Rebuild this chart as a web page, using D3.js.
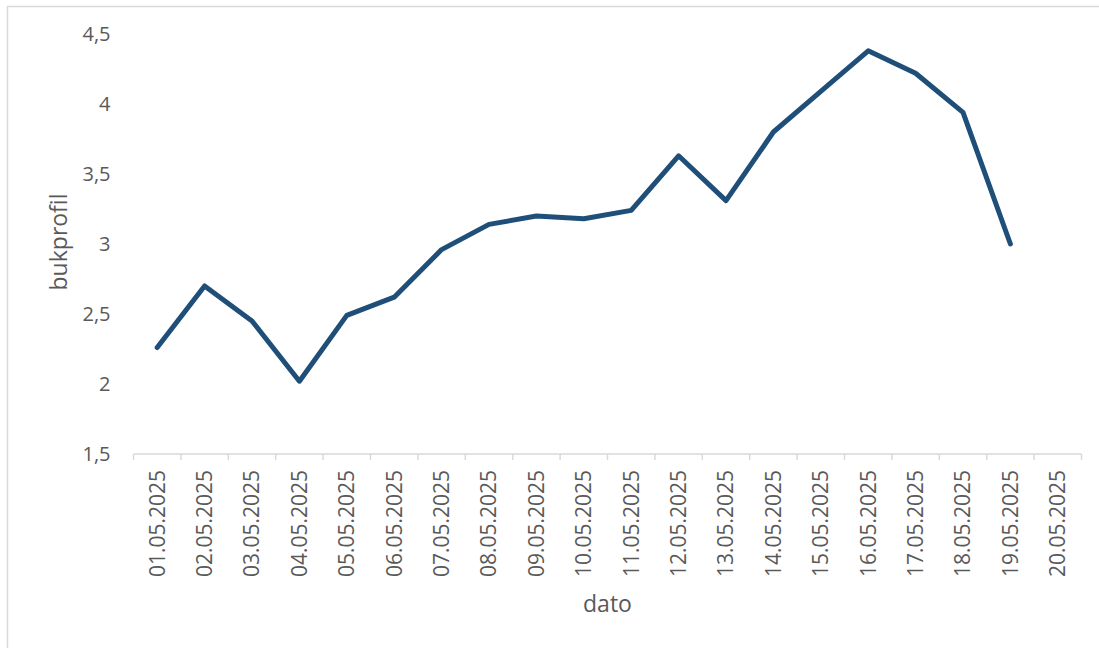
<!DOCTYPE html>
<html>
<head>
<meta charset="utf-8">
<script src="https://cdn.jsdelivr.net/npm/d3@7"></script>
<style>
  html, body { margin: 0; padding: 0; background: #fff; }
  svg { display: block; }
  text { font-family: "Open Sans", "Noto Sans", sans-serif; fill: #595959; }
</style>
</head>
<body>
<svg id="chart" width="1099" height="648"></svg>
<script>
// Daily readings, 1–20 May 2025 (last day has no value yet)
const dates = [
  "01.05.2025", "02.05.2025", "03.05.2025", "04.05.2025", "05.05.2025",
  "06.05.2025", "07.05.2025", "08.05.2025", "09.05.2025", "10.05.2025",
  "11.05.2025", "12.05.2025", "13.05.2025", "14.05.2025", "15.05.2025",
  "16.05.2025", "17.05.2025", "18.05.2025", "19.05.2025", "20.05.2025"
];
const bukprofil = [
  2.26, 2.70, 2.45, 2.02, 2.49, 2.62, 2.96, 3.14, 3.20, 3.18,
  3.24, 3.63, 3.31, 3.80, 4.09, 4.38, 4.22, 3.94, 3.00, null
];
const yTicks = [1.5, 2, 2.5, 3, 3.5, 4, 4.5];

const svg = d3.select("#chart");
const W = 1099, H = 648;
const margin = { left: 133.5, right: 17.5, top: 34, bottom: 194 };

// chart frame
svg.append("rect")
  .attr("x", 7.5).attr("y", 6.5)
  .attr("width", W + 20).attr("height", H + 20)
  .attr("fill", "none").attr("stroke", "#d9d9d9").attr("stroke-width", 1.5);

const x = d3.scaleBand()
  .domain(dates)
  .range([margin.left, W - margin.right]);

const y = d3.scaleLinear()
  .domain([1.5, 4.5])
  .range([H - margin.bottom, margin.top]);

const fmt = d => String(d).replace(".", ",");

// y axis: labels only
const yAxis = svg.append("g")
  .attr("transform", `translate(${margin.left},0)`)
  .call(d3.axisLeft(y).tickValues(yTicks).tickFormat(fmt).tickSize(0).tickPadding(23));
yAxis.select(".domain").remove();
yAxis.selectAll("text").style("font-size", "20px").attr("fill", "#595959");

// x axis with tick marks between categories
const xAxisG = svg.append("g")
  .attr("transform", `translate(0,${y(1.5)})`);

xAxisG.append("line")
  .attr("x1", x.range()[0]).attr("x2", x.range()[1])
  .attr("y1", 0).attr("y2", 0)
  .attr("stroke", "#d9d9d9").attr("stroke-width", 1.5);

const boundaries = dates.map(d => x(d)).concat([x.range()[1]]);
xAxisG.selectAll("line.tick")
  .data(boundaries)
  .join("line")
  .attr("class", "tick")
  .attr("x1", d => d).attr("x2", d => d)
  .attr("y1", 0).attr("y2", 6)
  .attr("stroke", "#d9d9d9").attr("stroke-width", 1.5);

xAxisG.selectAll("text.lbl")
  .data(dates)
  .join("text")
  .attr("class", "lbl")
  .attr("transform", d => `translate(${x(d) + x.bandwidth() / 2},16) rotate(-90)`)
  .attr("text-anchor", "end")
  .attr("dy", "0.35em")
  .style("font-size", "21px")
  .text(d => d);

// series line
const line = d3.line()
  .defined(d => d.v != null)
  .x(d => x(d.date) + x.bandwidth() / 2)
  .y(d => y(d.v));

svg.append("path")
  .datum(dates.map((d, i) => ({ date: d, v: bukprofil[i] })))
  .attr("d", line)
  .attr("fill", "none")
  .attr("stroke", "#1f4e79")
  .attr("stroke-width", 5)
  .attr("stroke-linejoin", "round")
  .attr("stroke-linecap", "round");

// axis titles
svg.append("text")
  .attr("x", (x.range()[0] + x.range()[1]) / 2)
  .attr("y", 612)
  .attr("text-anchor", "middle")
  .style("font-size", "23px")
  .text("dato");

svg.append("text")
  .attr("transform", `translate(67,242) rotate(-90)`)
  .attr("text-anchor", "middle")
  .style("font-size", "23px")
  .text("bukprofil");
</script>
</body>
</html>
